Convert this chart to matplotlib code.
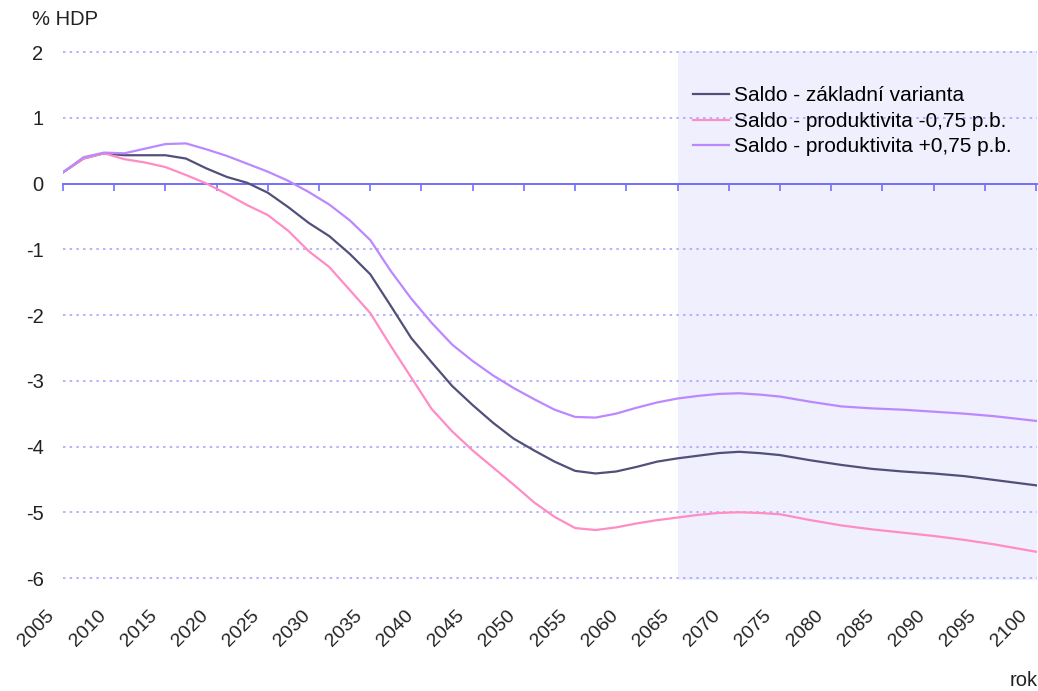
import matplotlib
matplotlib.use("Agg")
import matplotlib.pyplot as plt
import matplotlib.transforms as mtransforms

plt.rcParams["font.family"] = ["Liberation Sans", "DejaVu Sans"]

# data (% HDP)
years = [2005, 2007, 2009, 2011, 2013, 2015, 2017, 2019, 2021, 2023,
         2025, 2027, 2029, 2031, 2033, 2035, 2037, 2039, 2041, 2043,
         2045, 2047, 2049, 2051, 2053, 2055, 2057, 2059, 2061, 2063,
         2065, 2067, 2069, 2071, 2073, 2075, 2078, 2081, 2084, 2087,
         2090, 2093, 2096, 2100]

saldo_base = [0.17, 0.38, 0.46, 0.43, 0.43, 0.43, 0.38, 0.23, 0.10, 0.01,
              -0.14, -0.36, -0.60, -0.80, -1.07, -1.38, -1.86, -2.35, -2.72, -3.08,
              -3.37, -3.64, -3.88, -4.06, -4.23, -4.37, -4.41, -4.38, -4.31, -4.23,
              -4.18, -4.14, -4.10, -4.08, -4.10, -4.13, -4.21, -4.28, -4.34, -4.38,
              -4.41, -4.45, -4.51, -4.59]

saldo_minus = [0.17, 0.38, 0.46, 0.37, 0.32, 0.25, 0.13, 0.00, -0.16, -0.33,
               -0.48, -0.72, -1.03, -1.27, -1.62, -1.97, -2.47, -2.95, -3.43, -3.77,
               -4.06, -4.32, -4.58, -4.85, -5.07, -5.24, -5.27, -5.23, -5.17, -5.12,
               -5.08, -5.04, -5.01, -5.00, -5.01, -5.03, -5.12, -5.20, -5.26, -5.31,
               -5.36, -5.42, -5.49, -5.60]

saldo_plus = [0.17, 0.40, 0.47, 0.46, 0.53, 0.60, 0.61, 0.52, 0.42, 0.30,
              0.18, 0.04, -0.13, -0.32, -0.56, -0.86, -1.33, -1.75, -2.12, -2.45,
              -2.70, -2.92, -3.11, -3.28, -3.44, -3.55, -3.56, -3.50, -3.41, -3.33,
              -3.27, -3.23, -3.20, -3.19, -3.21, -3.24, -3.32, -3.39, -3.42, -3.44,
              -3.47, -3.50, -3.54, -3.61]

labels = ["Saldo - základní varianta",
          "Saldo - produktivita -0,75 p.b.",
          "Saldo - produktivita +0,75 p.b."]
colors = ["#50507a", "#ff8cc4", "#bb88ff"]

xticks = list(range(2005, 2101, 5))
yticks = [2, 1, 0, -1, -2, -3, -4, -5, -6]
shade_from = 2065

fig = plt.figure(figsize=(10.38, 6.91), dpi=100)
ax = fig.add_axes([63 / 1038, 1 - 580 / 691, 974 / 1038, 529.3 / 691])
ax.set_xlim(2005, 2100.1)
ax.set_ylim(-6.03, 2.02)

ax.axvspan(shade_from, 2100.1, color="#efeffd", lw=0, zorder=0)
for y in yticks:
    if y != 0:
        ax.axhline(y, color="#a8a8ff", lw=1.2, ls=(0, (1.5, 2.5)), zorder=1)

for vals, lab, col in zip([saldo_base, saldo_minus, saldo_plus], labels, colors):
    ax.plot(years, vals, color=col, lw=1.6, label=lab, zorder=3,
            solid_joinstyle="round")

for side in ["left", "right", "bottom"]:
    ax.spines[side].set_visible(False)
ax.spines["top"].set_position(("data", 0))
ax.spines["top"].set_color("#7070ff")
ax.spines["top"].set_linewidth(1.4)
ax.spines["top"].set_zorder(2)

# ticks sit on the zero line, the year labels go below the plot
ax.set_xticks(xticks)
ax.tick_params(axis="x", which="both", top=True, bottom=False, direction="in",
               length=5, width=1.2, color="#7070ff", labeltop=False,
               labelbottom=False)
lab_trans = ax.get_xaxis_transform() + mtransforms.ScaledTranslation(
    -0.17, -0.27, fig.dpi_scale_trans)
for yr in xticks:
    ax.text(yr, 0, str(yr), transform=lab_trans, rotation=45, ha="right",
            va="top", rotation_mode="anchor", fontsize=14, color="#222222")

ax.set_yticks(yticks)
ax.set_yticklabels([str(y) for y in yticks], fontsize=14.5, color="#222222")
ax.tick_params(axis="y", length=0, pad=14)

ax.legend(loc="upper left", bbox_to_anchor=(0.647, 0.933), frameon=False,
          fontsize=15, handlelength=1.7, handletextpad=0.25,
          labelspacing=0.32, borderpad=0, borderaxespad=0)

fig.text(32 / 1038, 1 - 10 / 691, "% HDP", fontsize=14.5, ha="left", va="top",
         color="#222222")
fig.text(1.0, 1 / 691, "rok", fontsize=14.5, ha="right", va="bottom",
         color="#222222")

fig.savefig("out.png", dpi=100)
